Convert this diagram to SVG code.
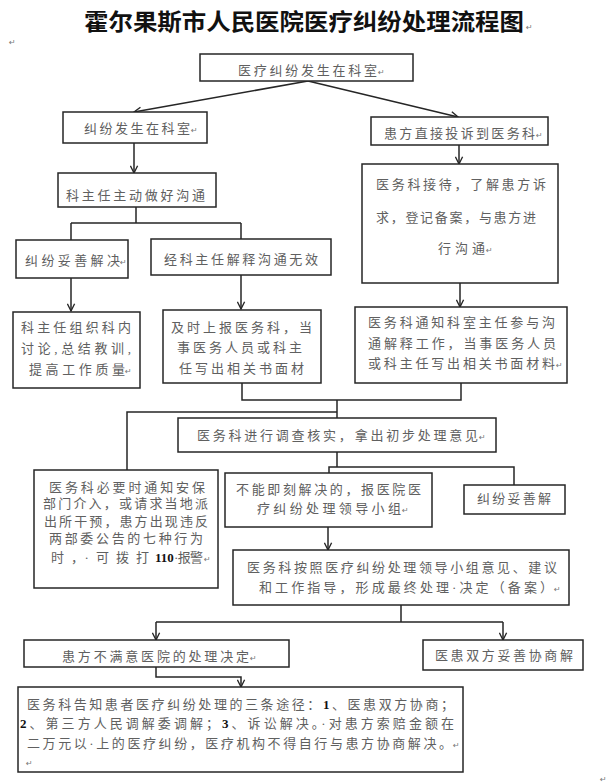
<svg xmlns="http://www.w3.org/2000/svg" width="611" height="784" viewBox="0 0 611 784">
<style>
.bg{fill:#ffffff}
.box{fill:#ffffff;stroke:#262626;stroke-width:1.5}
.t{font-family:"Liberation Serif","Noto Sans CJK SC",serif;font-size:13px;fill:#606060}
.n{fill:#111111;font-weight:bold}
.pm{font-family:"DejaVu Sans",sans-serif;font-size:8px;fill:#777777}
.title{font-family:"Liberation Serif","Noto Sans CJK SC",serif;font-size:23px;font-weight:bold;fill:#111111}
.c{fill:none;stroke:#262626;stroke-width:1.5}
</style>
<defs>
<marker id="ah" viewBox="0 0 10 10" refX="9" refY="5" markerWidth="9" markerHeight="9" markerUnits="userSpaceOnUse" orient="auto">
<path d="M1,1 L9,5 L1,9" fill="none" stroke="#262626" stroke-width="1.5"/>
</marker>
</defs>
<rect class="bg" x="0" y="0" width="611" height="784"/>

<g id="title">
<text class="title" x="84" y="30" textLength="440" lengthAdjust="spacingAndGlyphs">霍尔果斯市人民医院医疗纠纷处理流程图</text>
<text class="pm" x="526" y="30">↵</text>
<text class="pm" x="9" y="45">↵</text>
</g>

<g id="connectors">
<line class="c" x1="308" y1="81" x2="134" y2="112" marker-end="url(#ah)"/>
<line class="c" x1="308" y1="81" x2="458" y2="117" marker-end="url(#ah)"/>
<line class="c" x1="134" y1="143" x2="134" y2="173" marker-end="url(#ah)"/>
<line class="c" x1="459" y1="145" x2="459" y2="164" marker-end="url(#ah)"/>
<path class="c" d="M136,207 V223 M71,223 H241 M71,223 V240 M241,223 V239"/>
<line class="c" x1="71" y1="278" x2="71" y2="311" marker-end="url(#ah)"/>
<line class="c" x1="241" y1="275" x2="241" y2="309" marker-end="url(#ah)"/>
<line class="c" x1="460" y1="283" x2="460" y2="307" marker-end="url(#ah)"/>
<path class="c" d="M242,383 V400 H461 V383 M337,400 V418 M337,412 H127 V470"/>
<path class="c" d="M337,452 V467 H329 V473 M337,467 H514 V485"/>
<line class="c" x1="328" y1="527" x2="328" y2="550" marker-end="url(#ah)"/>
<path class="c" d="M401,605 V622 M156,622 H503"/>
<line class="c" x1="156" y1="622" x2="156" y2="640" marker-end="url(#ah)"/>
<line class="c" x1="503" y1="622" x2="503" y2="640" marker-end="url(#ah)"/>
<path class="c" d="M156,667 V677 H241 V687" marker-end="url(#ah)"/>
</g>

<g id="nA">
<rect class="box" x="200" y="54" width="213" height="27"/>
<text class="t" x="238" y="75" textLength="139" lengthAdjust="spacing">医疗纠纷发生在科室</text>
<text class="pm" x="378" y="75">↵</text>
</g>

<g id="nB">
<rect class="box" x="63" y="112" width="144" height="31"/>
<text class="t" x="84" y="133" textLength="106" lengthAdjust="spacing">纠纷发生在科室</text>
<text class="pm" x="191" y="133">↵</text>
</g>

<g id="nC">
<rect class="box" x="371" y="117" width="177" height="28"/>
<text class="t" x="384" y="138" textLength="151" lengthAdjust="spacing">患方直接投诉到医务科</text>
<text class="pm" x="536" y="138">↵</text>
</g>

<g id="nD">
<rect class="box" x="58" y="173" width="158" height="34"/>
<text class="t" x="66" y="200" textLength="139" lengthAdjust="spacing">科主任主动做好沟通</text>
</g>

<g id="nE">
<rect class="box" x="362" y="164" width="196" height="119"/>
<text class="t" x="376" y="189" textLength="170" lengthAdjust="spacing">医务科接待，了解患方诉</text>
<text class="t" x="376" y="222" textLength="160" lengthAdjust="spacing">求，登记备案，与患方进</text>
<text class="t" x="438" y="253" textLength="47" lengthAdjust="spacing">行沟通</text>
<text class="pm" x="486" y="253">↵</text>
</g>

<g id="nF">
<rect class="box" x="16" y="240" width="112" height="38"/>
<text class="t" x="25" y="265" textLength="95" lengthAdjust="spacing">纠纷妥善解决</text>
<text class="pm" x="120" y="265">↵</text>
</g>

<g id="nG">
<rect class="box" x="151" y="239" width="180" height="36"/>
<text class="t" x="164" y="264" textLength="154" lengthAdjust="spacing">经科主任解释沟通无效</text>
</g>

<g id="nH">
<rect class="box" x="13" y="312" width="127" height="76"/>
<text class="t" x="21" y="332" textLength="110" lengthAdjust="spacing">科主任组织科内</text>
<text class="t" x="21" y="353" textLength="110" lengthAdjust="spacing">讨论,总结教训,</text>
<text class="t" x="29" y="374" textLength="96" lengthAdjust="spacing">提高工作质量</text>
<text class="pm" x="125" y="374">↵</text>
</g>

<g id="nI">
<rect class="box" x="163" y="310" width="158" height="73"/>
<text class="t" x="171" y="332" textLength="141" lengthAdjust="spacing">及时上报医务科，当</text>
<text class="t" x="177" y="352" textLength="125" lengthAdjust="spacing">事医务人员或科主</text>
<text class="t" x="179" y="373" textLength="125" lengthAdjust="spacing">任写出相关书面材</text>
</g>

<g id="nJ">
<rect class="box" x="355" y="307" width="212" height="76"/>
<text class="t" x="368" y="327" textLength="187" lengthAdjust="spacing">医务科通知科室主任参与沟</text>
<text class="t" x="368" y="348" textLength="188" lengthAdjust="spacing">通解释工作，当事医务人员</text>
<text class="t" x="368" y="368" textLength="187" lengthAdjust="spacing">或科主任写出相关书面材料</text>
<text class="pm" x="556" y="368">↵</text>
</g>

<g id="nK">
<rect class="box" x="178" y="418" width="318" height="34"/>
<text class="t" x="197" y="440" textLength="281" lengthAdjust="spacing">医务科进行调查核实，拿出初步处理意见</text>
<text class="pm" x="479" y="440">↵</text>
</g>

<g id="nL">
<rect class="box" x="34" y="470" width="184" height="118"/>
<text class="t" x="49" y="492" textLength="156" lengthAdjust="spacing">医务科必要时通知安保</text>
<text class="t" x="43" y="508" textLength="165" lengthAdjust="spacing">部门介入，或请求当地派</text>
<text class="t" x="44" y="526" textLength="164" lengthAdjust="spacing">出所干预，患方出现违反</text>
<text class="t" x="49" y="543" textLength="154" lengthAdjust="spacing">两部委公告的七种行为</text>
<text class="t" x="51" y="562" textLength="98" lengthAdjust="spacing">时，·可拨打</text>
<text class="t n" x="155" y="562">110</text>
<text class="t" x="174" y="562" textLength="29" lengthAdjust="spacing">·报警</text>
<text class="pm" x="204" y="562">↵</text>
</g>

<g id="nM">
<rect class="box" x="225" y="473" width="207" height="54"/>
<text class="t" x="236" y="494" textLength="185" lengthAdjust="spacing">不能即刻解决的，报医院医</text>
<text class="t" x="257" y="513" textLength="144" lengthAdjust="spacing">疗纠纷处理领导小组</text>
<text class="pm" x="402" y="513">↵</text>
</g>

<g id="nN">
<rect class="box" x="464" y="485" width="101" height="29"/>
<text class="t" x="477" y="503" textLength="74" lengthAdjust="spacing">纠纷妥善解</text>
</g>

<g id="nO">
<rect class="box" x="233" y="550" width="336" height="55"/>
<text class="t" x="247" y="572" textLength="310" lengthAdjust="spacing">医务科按照医疗纠纷处理领导小组意见、建议</text>
<text class="t" x="259" y="592" textLength="294" lengthAdjust="spacing">和工作指导，形成最终处理·决定（备案）</text>
<text class="pm" x="554" y="592">↵</text>
</g>

<g id="nP">
<rect class="box" x="24" y="640" width="265" height="27"/>
<text class="t" x="62" y="661" textLength="187" lengthAdjust="spacing">患方不满意医院的处理决定</text>
<text class="pm" x="250" y="661">↵</text>
</g>

<g id="nQ">
<rect class="box" x="423" y="640" width="160" height="30"/>
<text class="t" x="435" y="660" textLength="138" lengthAdjust="spacing">医患双方妥善协商解</text>
</g>

<g id="nR">
<rect class="box" x="18" y="687" width="445" height="85"/>
<text class="t" x="27" y="709" textLength="427" lengthAdjust="spacing">医务科告知患者医疗纠纷处理的三条途径：<tspan class="n">1</tspan>、医患双方协商；</text>
<text class="t" x="20" y="728" textLength="434" lengthAdjust="spacing"><tspan class="n">2</tspan>、第三方人民调解委调解；<tspan class="n">3</tspan>、诉讼解决。·对患方索赔金额在</text>
<text class="t" x="27" y="748" textLength="425" lengthAdjust="spacing">二万元以·上的医疗纠纷，医疗机构不得自行与患方协商解决。</text>
<text class="pm" x="453" y="748">↵</text>
<text class="pm" x="26" y="766">↵</text>
</g>
<text class="pm" x="600" y="782">↵</text>
</svg>
